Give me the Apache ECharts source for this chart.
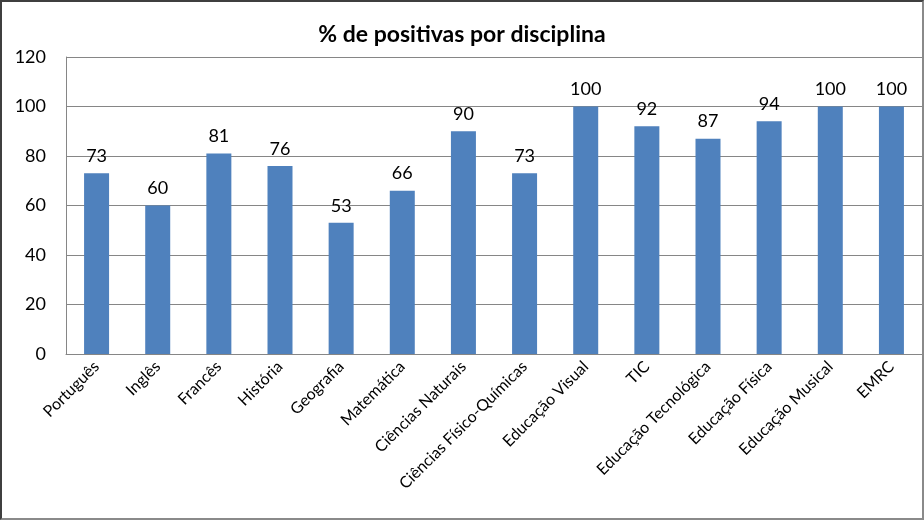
<!DOCTYPE html>
<html>
<head>
<meta charset="utf-8">
<script src="https://cdn.jsdelivr.net/npm/echarts@6/dist/echarts.min.js"></script>
<style>
  html, body { margin: 0; padding: 0; background: #fff; }
  #frame {
    position: absolute; left: 0; top: 0; width: 924px; height: 520px;
    box-sizing: border-box;
    border-left: 2px solid #3f3f3f; border-top: 2px solid #3f3f3f;
    border-right: 2px solid #8a8a8a; border-bottom: 2px solid #8a8a8a;
  }
  #chart { width: 920px; height: 516px; }
</style>
</head>
<body>
<div id="frame"><div id="chart"></div></div>
<script>
const categories = ['Português', 'Inglês', 'Francês', 'História', 'Geografia', 'Matemática',
  'Ciências Naturais', 'Ciências Físico-Químicas', 'Educação Visual', 'TIC',
  'Educação Tecnológica', 'Educação Física', 'Educação Musical', 'EMRC'];
const values = [73, 60, 81, 76, 53, 66, 90, 73, 100, 92, 87, 94, 100, 100];
const yTicks = [0, 20, 40, 60, 80, 100, 120];
const titleText = '% de positivas por disciplina';

const chart = echarts.init(document.getElementById('chart'), null, { renderer: 'canvas' });
const font = 'Lato, "Open Sans", sans-serif';
chart.setOption({
  animation: false,
  title: {
    text: titleText, left: 'center', top: 16,
    textStyle: { fontFamily: font, fontSize: 23, fontWeight: 'bold', color: '#000' }
  },
  grid: { left: 64, top: 55, right: -2, bottom: 164, containLabel: false },
  xAxis: {
    type: 'category', data: categories,
    axisLine: { show: true, lineStyle: { color: '#868686', width: 1 } },
    axisTick: { show: false },
    axisLabel: { rotate: 45, interval: 0, margin: 10, fontFamily: font, fontSize: 16, color: '#000' }
  },
  yAxis: {
    type: 'value', min: yTicks[0], max: yTicks[yTicks.length - 1], interval: 20,
    axisLine: { show: true, lineStyle: { color: '#868686', width: 1 } },
    axisTick: { show: false },
    splitLine: { show: true, lineStyle: { color: '#868686', width: 1 } },
    axisLabel: { margin: 20, fontFamily: font, fontSize: 18, color: '#000' }
  },
  series: [{
    type: 'bar', data: values, barWidth: 25,
    itemStyle: { color: '#4F81BD' },
    label: { show: true, position: 'top', distance: 8, fontFamily: font, fontSize: 18, color: '#000' }
  }]
});
</script>
</body>
</html>
